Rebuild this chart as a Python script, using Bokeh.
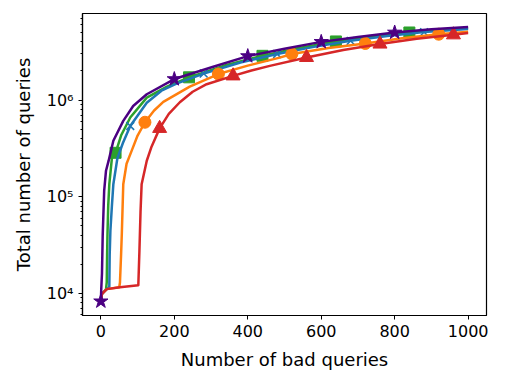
from bokeh.plotting import figure
from bokeh.models import Range1d, FixedTicker, CustomJSTickFormatter
from bokeh.embed import file_html
from bokeh.resources import INLINE

# ---- data ----
purple_x = [0, 1, 3, 5, 9, 14, 21, 34, 61, 88, 125, 200, 306, 400, 500, 600, 700, 800, 900, 1000]
purple_y = [8300, 11000, 16000, 40000, 115000, 186000, 235000, 380000, 610000, 870000, 1150000,
            1650000, 2210000, 2850000, 3400000, 4000000, 4500000, 5000000, 5400000, 5700000]
purple_mx = [0, 200, 400, 600, 800]
purple_my = [8300, 1650000, 2850000, 4000000, 5000000]

green_x = [0, 3, 14, 16, 17, 18, 20, 23, 30, 40, 55, 80, 125, 180, 240, 340, 440, 540, 640, 740, 840, 920, 1000]
green_y = [8300, 9900, 11000, 13000, 25000, 41000, 80000, 135000, 250000, 285000, 430000, 660000,
           1060000, 1380000, 1720000, 2300000, 2870000, 3450000, 4040000, 4550000, 5000000, 5300000, 5550000]
green_mx = [40, 240, 440, 640, 840]
green_my = [285000, 1720000, 2870000, 4040000, 5000000]

blue_x = [0, 3, 16, 23, 24, 26, 30, 34, 45, 60, 80, 125, 165, 206, 280, 380, 480, 580, 680, 780, 880, 1000]
blue_y = [8300, 9900, 11100, 11700, 25000, 45000, 80000, 135000, 250000, 360000, 540000, 940000,
          1250000, 1480000, 1880000, 2450000, 3000000, 3550000, 4100000, 4600000, 5050000, 5450000]
blue_mx = [80, 280, 480, 680, 880]
blue_my = [540000, 1880000, 3000000, 4100000, 5050000]

orange_x = [0, 3, 16, 50, 52, 55, 57, 61, 70, 84, 100, 120, 145, 170, 242, 320, 400, 487, 520, 620,
            720, 820, 920, 1000]
orange_y = [8300, 9900, 11100, 11600, 13000, 25000, 41000, 135000, 220000, 300000, 430000, 590000,
            780000, 960000, 1380000, 1860000, 2270000, 2750000, 3000000, 3450000, 3850000, 4350000,
            4800000, 5100000]
orange_mx = [120, 320, 520, 720, 920]
orange_my = [590000, 1860000, 3000000, 3850000, 4800000]

red_x = [0, 3, 16, 52, 102, 105, 108, 111, 125, 138, 160, 185, 215, 250, 288, 360, 410, 460, 560,
         660, 760, 860, 960, 1000]
red_y = [8300, 9900, 11100, 11600, 12200, 27700, 70000, 135000, 236000, 330000, 510000, 720000,
         950000, 1220000, 1460000, 1780000, 2020000, 2260000, 2760000, 3300000, 3800000, 4300000,
         4730000, 4950000]
red_mx = [160, 360, 560, 760, 960]
red_my = [510000, 1780000, 2760000, 3800000, 4730000]

x_ticks = [0, 200, 400, 600, 800, 1000]
y_major = [1e4, 1e5, 1e6]

FONT = "DejaVu Sans"

p = figure(width=505, height=382, output_backend="svg", toolbar_location=None,
           y_axis_type="log", x_range=Range1d(-50, 1050), y_range=Range1d(5923, 7.86e6),
           min_border_left=82, min_border_right=19, min_border_top=13, min_border_bottom=67)
p.background_fill_color = "white"
p.border_fill_color = "white"
p.grid.visible = False
p.outline_line_color = "black"
p.outline_line_width = 1.2

minor = [m * 10 ** k for k in range(3, 7) for m in range(2, 10)]
p.yaxis.ticker = FixedTicker(ticks=y_major, minor_ticks=minor)
p.yaxis.formatter = CustomJSTickFormatter(code="""
const sup = {"0":"\u2070","1":"\u00b9","2":"\u00b2","3":"\u00b3","4":"\u2074","5":"\u2075","6":"\u2076","7":"\u2077","8":"\u2078","9":"\u2079"};
const e = Math.round(Math.log10(tick));
return "10" + String(e).split("").map(c => sup[c]).join("");
""")
p.xaxis.ticker = FixedTicker(ticks=x_ticks, minor_ticks=[])

for ax in (p.xaxis[0], p.yaxis[0]):
    ax.axis_line_color = "black"
    ax.axis_line_width = 1.2
    ax.major_tick_in = 0
    ax.major_tick_out = 4
    ax.minor_tick_in = 0
    ax.minor_tick_out = 2
    ax.major_tick_line_color = "black"
    ax.minor_tick_line_color = "black"
    ax.major_label_text_font = FONT
    ax.major_label_text_font_size = "16px"
    ax.major_label_text_color = "black"
    ax.axis_label_text_font = FONT
    ax.axis_label_text_font_size = "18px"
    ax.axis_label_text_font_style = "normal"
    ax.axis_label_text_color = "black"

p.xaxis.axis_label = "Number of bad queries"
p.yaxis.axis_label = "Total number of queries"
p.xaxis.major_label_standoff = 5
p.xaxis.axis_label_standoff = 9
p.yaxis.major_label_standoff = 5
p.yaxis.axis_label_standoff = 10
p.xaxis.minor_tick_out = 0

LW = 2.5
series = [
    (green_x, green_y, green_mx, green_my, "#2ca02c", "square", 11),
    (blue_x, blue_y, blue_mx, blue_my, "#1f77b4", "x", 11),
    (orange_x, orange_y, orange_mx, orange_my, "#ff7f0e", "circle", 12),
    (red_x, red_y, red_mx, red_my, "#d62728", "triangle", 14),
    (purple_x, purple_y, purple_mx, purple_my, "#4b0082", "star", 15),
]
for xs, ys, mx, my, col, mk, sz in series:
    p.line(xs, ys, line_width=LW, line_color=col, line_join="round")
    if mk == "x":
        p.scatter(mx, my, marker=mk, size=sz, line_color=col, line_width=1.6)
    else:
        p.scatter(mx, my, marker=mk, size=sz, fill_color=col, line_color=col, line_width=1)

open("out.html", "w").write(file_html(p, INLINE))
